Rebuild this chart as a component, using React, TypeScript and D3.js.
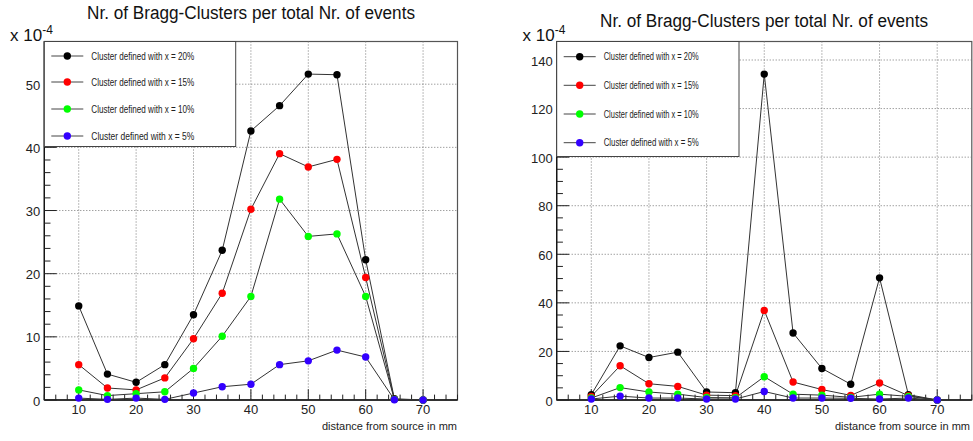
import React from "react";
import * as d3 from "d3";

const distances = [10, 15, 20, 25, 30, 35, 40, 45, 50, 55, 60, 65, 70];
const seriesNames = [
  "Cluster defined with x = 20%",
  "Cluster defined with x = 15%",
  "Cluster defined with x = 10%",
  "Cluster defined with x = 5%",
];
const seriesColors = ["#000000", "#ff0000", "#00ff00", "#3300ff"];

const leftX20 = [14.9, 4.1, 2.8, 5.6, 13.5, 23.7, 42.6, 46.6, 51.6, 51.5, 22.2, 0.2, 0.0];
const leftX15 = [5.6, 1.9, 1.6, 3.5, 9.7, 16.9, 30.2, 39.0, 36.9, 38.1, 19.4, 0.1, 0.0];
const leftX10 = [1.6, 0.7, 1.0, 1.3, 5.0, 10.1, 16.4, 31.8, 25.9, 26.3, 16.4, 0.1, 0.0];
const leftX5 = [0.3, 0.1, 0.3, 0.1, 1.1, 2.1, 2.5, 5.6, 6.2, 7.9, 6.8, 0.05, 0.0];

const rightX20 = [2.2, 22.3, 17.5, 19.7, 3.3, 3.0, 134.2, 27.6, 13.0, 6.5, 50.3, 2.2, 0];
const rightX15 = [1.5, 14.1, 6.7, 5.6, 2.0, 1.8, 36.9, 7.4, 4.3, 1.9, 7.0, 1.8, 0];
const rightX10 = [0.8, 5.1, 3.3, 2.4, 1.0, 0.9, 9.6, 2.4, 2.0, 1.1, 2.4, 1.5, 0];
const rightX5 = [0.4, 1.6, 0.8, 0.8, 0.4, 0.4, 3.5, 0.8, 0.8, 0.7, 0.4, 0.8, 0];

const xTicks = [10, 20, 30, 40, 50, 60, 70];
const leftYTicks = [0, 10, 20, 30, 40, 50];
const rightYTicks = [0, 20, 40, 60, 80, 100, 120, 140];

const titleText = "Nr. of Bragg-Clusters per total Nr. of events";
const xTitle = "distance from source in mm";

const FONT = "'Liberation Sans', Arial, Helvetica, sans-serif";

type PanelProps = {
  x0: number;
  x1: number;
  series: number[][];
  yTicks: number[];
  yMinorStep: number;
  titleX: number;
  titleY: number;
  expX: number;
  legendW: number;
  legendH: number;
  legendRowY: number[];
  legendTextW: number;
  xTitleRight: number;
};

function Panel(p: PanelProps) {
  const y0 = 41.5;
  const y1 = 400;
  const xs = d3.scaleLinear().domain([4, 76]).range([p.x0, p.x1]);
  const allMax = d3.max(p.series.flat()) as number;
  const ys = d3.scaleLinear().domain([0, allMax * 1.1]).range([y1, y0]);
  const line = d3
    .line<number>()
    .x((_, i) => xs(distances[i]))
    .y((v) => ys(v));
  const xMinor = d3.range(4, 76.01, 2);
  const yMinor = d3.range(0, allMax * 1.1, p.yMinorStep);
  const fw = p.x1 - p.x0;
  const fh = y1 - y0;
  const majY = fw * 0.03;
  const majX = fh * 0.03;
  return (
    <g>
      <text
        x={p.titleX}
        y={p.titleY}
        fontSize={18}
        textAnchor="middle"
        textLength={328}
        lengthAdjust="spacingAndGlyphs"
        fontFamily={FONT}
        fill="#111"
      >
        {titleText}
      </text>
      <text x={p.expX} y={40.5} fontSize={17} fontFamily={FONT} fill="#111">
        x 10
        <tspan dy={-7} fontSize={12}>
          -4
        </tspan>
      </text>
      <rect x={p.x0} y={y0} width={fw} height={fh} fill="white" stroke="#555" strokeWidth={1.2} />
      {xTicks.map((t) => (
        <line
          key={"gx" + t}
          x1={xs(t)}
          x2={xs(t)}
          y1={y0}
          y2={y1}
          stroke="#777"
          strokeWidth={1}
          strokeDasharray="1,2"
        />
      ))}
      {p.yTicks
        .filter((t) => t > 0)
        .map((t) => (
          <line
            key={"gy" + t}
            x1={p.x0}
            x2={p.x1}
            y1={ys(t)}
            y2={ys(t)}
            stroke="#777"
            strokeWidth={1}
            strokeDasharray="1,2"
          />
        ))}
      <line x1={p.x0} x2={p.x0} y1={y0} y2={y1} stroke="#111" strokeWidth={1.3} />
      <line x1={p.x0} x2={p.x1} y1={y1} y2={y1} stroke="#111" strokeWidth={1.3} />
      {xMinor.map((t) => (
        <line
          key={"xt" + t}
          x1={xs(t)}
          x2={xs(t)}
          y1={y1}
          y2={y1 - (t % 10 === 0 ? majX : majX / 2)}
          stroke="#222"
          strokeWidth={1}
        />
      ))}
      {yMinor.map((t) => (
        <line
          key={"yt" + t}
          x1={p.x0}
          x2={p.x0 + (p.yTicks.includes(t) ? majY : majY / 2)}
          y1={ys(t)}
          y2={ys(t)}
          stroke="#222"
          strokeWidth={1}
        />
      ))}
      {xTicks.map((t) => (
        <text
          key={"xl" + t}
          x={xs(t)}
          y={414}
          fontSize={13}
          textAnchor="middle"
          fontFamily={FONT}
          fill="#222"
        >
          {t}
        </text>
      ))}
      {p.yTicks.map((t) => (
        <text
          key={"yl" + t}
          x={p.x0 - 4}
          y={ys(t) + 5.5}
          fontSize={13}
          textAnchor="end"
          fontFamily={FONT}
          fill="#222"
        >
          {t}
        </text>
      ))}
      <text
        x={p.xTitleRight}
        y={430}
        fontSize={11}
        textAnchor="end"
        fontFamily={FONT}
        fill="#222"
      >
        {xTitle}
      </text>
      {p.series.map((s, si) => (
        <path key={"l" + si} d={line(s) as string} fill="none" stroke="#333" strokeWidth={1} />
      ))}
      {p.series.map((s, si) =>
        s.map((v, i) => (
          <circle
            key={"m" + si + "-" + i}
            cx={xs(distances[i])}
            cy={ys(v)}
            r={3.7}
            fill={seriesColors[si]}
          />
        ))
      )}
      <rect
        x={p.x0}
        y={y0}
        width={p.legendW}
        height={p.legendH}
        fill="white"
        stroke="#444"
        strokeWidth={1}
      />
      {seriesNames.map((n, i) => (
        <g key={"lg" + i}>
          <line
            x1={p.x0 + 7}
            x2={p.x0 + 39}
            y1={p.legendRowY[i]}
            y2={p.legendRowY[i]}
            stroke="#444"
            strokeWidth={1}
          />
          <circle cx={p.x0 + 23} cy={p.legendRowY[i]} r={3.7} fill={seriesColors[i]} />
          <text
            x={p.x0 + 47}
            y={p.legendRowY[i] + 3.5}
            fontSize={10}
            textLength={p.legendTextW}
            lengthAdjust="spacingAndGlyphs"
            fontFamily={FONT}
            fill="#222"
          >
            {n}
          </text>
        </g>
      ))}
    </g>
  );
}

export default function App() {
  return (
    <svg
      width={973}
      height={441}
      style={{ position: "absolute", left: 0, top: 0, background: "white" }}
    >
      <rect width={973} height={441} fill="white" />
      <Panel
        x0={44.3}
        x1={457.5}
        series={[leftX20, leftX15, leftX10, leftX5]}
        yTicks={leftYTicks}
        yMinorStep={2}
        titleX={251}
        titleY={18.5}
        expX={10}
        legendW={191.4}
        legendH={105}
        legendRowY={[56, 82, 109, 136]}
        legendTextW={103}
        xTitleRight={457}
      />
      <Panel
        x0={556.7}
        x1={971.8}
        series={[rightX20, rightX15, rightX10, rightX5]}
        yTicks={rightYTicks}
        yMinorStep={5}
        titleX={764}
        titleY={26.5}
        expX={522.5}
        legendW={182.3}
        legendH={115}
        legendRowY={[56.7, 85.3, 114, 142.7]}
        legendTextW={95}
        xTitleRight={970}
      />
    </svg>
  );
}
